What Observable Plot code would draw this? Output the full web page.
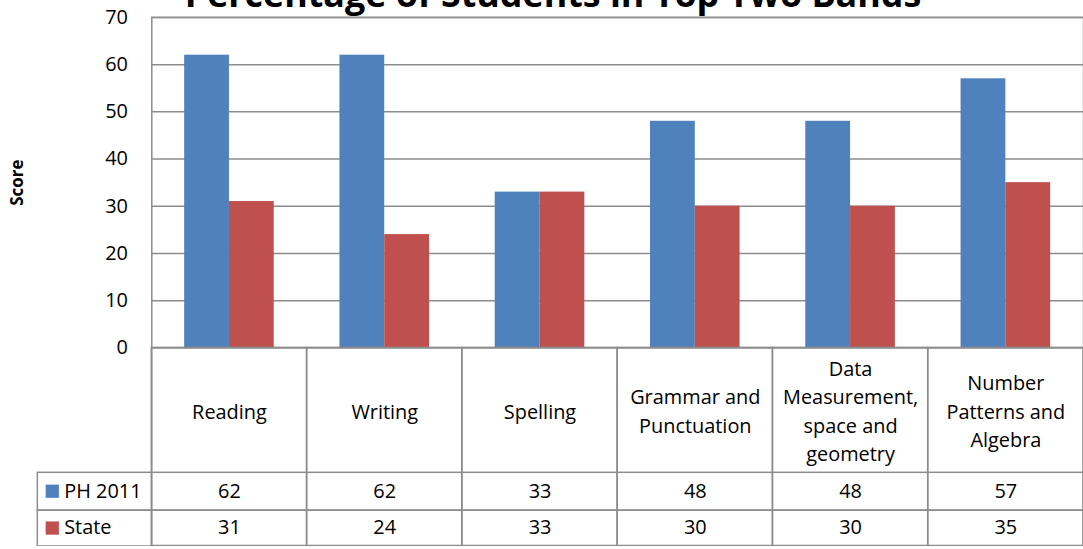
<!DOCTYPE html>
<html>
<head>
<meta charset="utf-8">
<script src="https://cdn.jsdelivr.net/npm/d3@7"></script>
<script src="https://cdn.jsdelivr.net/npm/@observablehq/plot@0.6"></script>
<style>
  html, body { margin: 0; padding: 0; background: #fff; overflow: hidden; }
  #chart svg { display: block; overflow: visible; }
</style>
</head>
<body>
<div id="chart"></div>
<script>
const title = "Percentage of Students in Top Two Bands";
const yLabel = "Score";
const categories = ["Reading", "Writing", "Spelling", "Grammar and Punctuation", "Data Measurement, space and geometry", "Number Patterns and Algebra"];
const categoryLabels = ["Reading", "Writing", "Spelling", "Grammar and\nPunctuation", "Data\nMeasurement,\nspace and\ngeometry", "Number\nPatterns and\nAlgebra"];
const seriesNames = ["PH 2011", "State"];
const ph2011 = [62, 62, 33, 48, 48, 57];
const state = [31, 24, 33, 30, 30, 35];
const yTicks = [0, 10, 20, 30, 40, 50, 60, 70];

const BLUE = "#4F81BD", RED = "#C0504D", LINE = "#8c8c8c";
const FONT = "'Open Sans', 'Noto Sans', sans-serif";
const FS = 20;

const rows = categories.map((c, i) => ({category: c, label: categoryLabels[i], ph: ph2011[i], state: state[i]}));

const chart = Plot.plot({
  width: 1088,
  height: 549,
  marginLeft: 152,
  marginRight: 0,
  marginTop: 17,
  marginBottom: 200,
  style: {fontFamily: FONT, fontSize: FS + "px", color: "#000", background: "#fff"},
  x: {domain: categories, padding: 0, axis: null},
  y: {domain: [0, 70], axis: null},
  marks: [
    Plot.gridY(yTicks, {stroke: LINE, strokeOpacity: 1, strokeWidth: 1.5}),
    // bars
    Plot.barY(rows, {x: "category", y: "ph", fill: BLUE, insetLeft: 33, insetRight: 78}),
    Plot.barY(rows, {x: "category", y: "state", fill: RED, insetLeft: 78, insetRight: 33}),
    // outer frame (left axis line through table)
    Plot.frame({stroke: LINE, strokeWidth: 1.5, insetBottom: -199}),
    // table columns
    Plot.cell(rows, {x: "category", fill: "none", stroke: LINE, strokeWidth: 1.5, insetTop: 332, insetBottom: -199}),
    // table rows including legend column
    Plot.frame({stroke: LINE, strokeWidth: 1.5, insetLeft: -115, insetTop: 457, insetBottom: -163}),
    Plot.frame({stroke: LINE, strokeWidth: 1.5, insetLeft: -115, insetTop: 495, insetBottom: -199}),
    // y axis tick labels
    Plot.axisY(yTicks, {tickSize: 0, tickPadding: 24, fontSize: FS, fontFamily: FONT, fill: "#000"}),
    // y label
    Plot.text([yLabel], {frameAnchor: "left", dx: -135, rotate: -90, textAnchor: "middle", fontWeight: "bold", fontSize: 17, fill: "#000"}),
    // category labels
    Plot.text(rows, {x: "category", text: "label", frameAnchor: "bottom", dy: 62, lineAnchor: "middle", lineHeight: 1.43, fontSize: FS, fill: "#000"}),
    // values
    Plot.text(rows, {x: "category", text: "ph", frameAnchor: "bottom", dy: 144, lineAnchor: "middle", fontSize: FS, fill: "#000"}),
    Plot.text(rows, {x: "category", text: "state", frameAnchor: "bottom", dy: 181, lineAnchor: "middle", fontSize: FS, fill: "#000"}),
    // legend swatches and names
    Plot.dot([seriesNames[0]], {frameAnchor: "bottom-left", dx: -100, dy: 144, symbol: "square", r: 7.5, fill: BLUE}),
    Plot.dot([seriesNames[1]], {frameAnchor: "bottom-left", dx: -100, dy: 181, symbol: "square", r: 7.5, fill: RED}),
    Plot.text([seriesNames[0]], {frameAnchor: "bottom-left", dx: -88, dy: 144, textAnchor: "start", lineAnchor: "middle", fontSize: FS, fill: "#000"}),
    Plot.text([seriesNames[1]], {frameAnchor: "bottom-left", dx: -88, dy: 181, textAnchor: "start", lineAnchor: "middle", fontSize: FS, fill: "#000"}),
    // title
    Plot.text([title], {frameAnchor: "top", dx: -65, dy: -10, lineAnchor: "bottom", fontWeight: "bold", fontSize: 36, fill: "#000"})
  ]
});
document.getElementById("chart").append(chart);
</script>
</body>
</html>
